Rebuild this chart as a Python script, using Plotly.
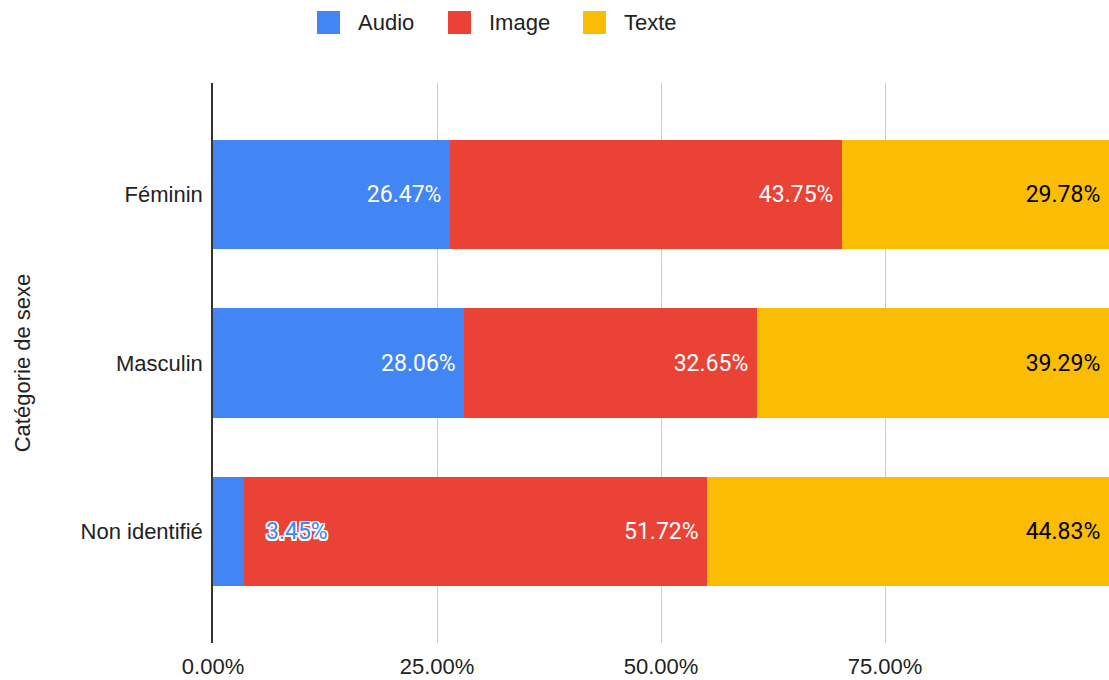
import plotly.graph_objects as go

categories = ["Féminin", "Masculin", "Non identifié"]
audio = [26.47, 28.06, 3.45]
image = [43.75, 32.65, 51.72]
texte = [29.78, 39.29, 44.83]
xticks = [0, 25, 50, 75]

colors = {"Audio": "#4285F4", "Image": "#EA4335", "Texte": "#FBBC04"}
pad = "\u00a0"

W, H = 1109, 680
L, R, T, B = 213, 0, 83, 37


def px2paper(x, y):
    # screen pixel -> paper coordinates
    return (x - L) / (W - L - R), (H - B - y) / (H - T - B)


def labels(vals, skip_small=False):
    out = []
    for v in vals:
        if skip_small and v < 5:
            out.append("")
        else:
            out.append(f"{v:.2f}%" + pad)
    return out


fig = go.Figure()
series = [("Audio", audio, "white"), ("Image", image, "white"), ("Texte", texte, "black")]
for name, vals, tcol in series:
    fig.add_trace(go.Bar(
        name=name, y=categories, x=vals, orientation="h",
        marker=dict(color=colors[name], line=dict(width=0)),
        text=labels(vals, skip_small=(name == "Audio")),
        textposition="inside", insidetextanchor="end",
        textfont=dict(family="Roboto", size=23, color=tcol),
        constraintext="none",
        hoverinfo="skip", showlegend=False,
    ))

# small audio value is written just right of its bar, blue with white outline
outline = ", ".join(f"{dx}px {dy}px 0 #fff" for dx in (-1.5, 0, 1.5) for dy in (-1.5, 0, 1.5))
for cat, v in zip(categories, audio):
    if v < 5:
        fig.add_annotation(
            x=v, y=cat, xref="x", yref="y", text=f"{v:.2f}%",
            showarrow=False, xanchor="left", xshift=20,
            font=dict(family="Roboto", size=23, color=colors["Audio"], shadow=outline),
        )

# legend drawn by hand so the swatches are as large as in the original
legend_x = [317, 448, 583]
for (name, _, _), lx in zip(series, legend_x):
    x0, y0 = px2paper(lx, 34)
    x1, y1 = px2paper(lx + 23, 11)
    fig.add_shape(type="rect", xref="paper", yref="paper", x0=x0, x1=x1, y0=y0, y1=y1,
                  fillcolor=colors[name], line=dict(width=0))
    tx, ty = px2paper(lx + 39, 22.5)
    fig.add_annotation(x=tx, y=ty, xref="paper", yref="paper", text=name,
                       showarrow=False, xanchor="left", yanchor="middle",
                       font=dict(size=22, color="#222"))

fig.update_layout(
    barmode="stack",
    bargap=0.35,
    width=W, height=H,
    margin=dict(l=L, r=R, t=T, b=B, autoexpand=False),
    plot_bgcolor="white", paper_bgcolor="white",
    font=dict(family="Liberation Sans, Arial", size=22, color="#222"),
    showlegend=False,
    xaxis=dict(range=[0, 100], tickvals=xticks,
               ticktext=[f"{t:.2f}%" for t in xticks],
               showgrid=True, gridcolor="#cccccc", gridwidth=1,
               zeroline=False, showline=False, ticks="", ticklabelstandoff=8,
               automargin=False),
    yaxis=dict(range=[2.66, -0.66], showline=True, linecolor="#333",
               linewidth=1.5, showgrid=False, ticks="", ticklabelstandoff=4,
               automargin=False,
               title=dict(text="Catégorie de sexe", standoff=44,
                          font=dict(size=22, color="#222"))),
)

# drop the default body margin so the figure fills the window exactly
fig.write_html("out.html", config={"displayModeBar": False},
               post_script="document.body.style.margin='0';document.body.style.overflow='hidden';")
